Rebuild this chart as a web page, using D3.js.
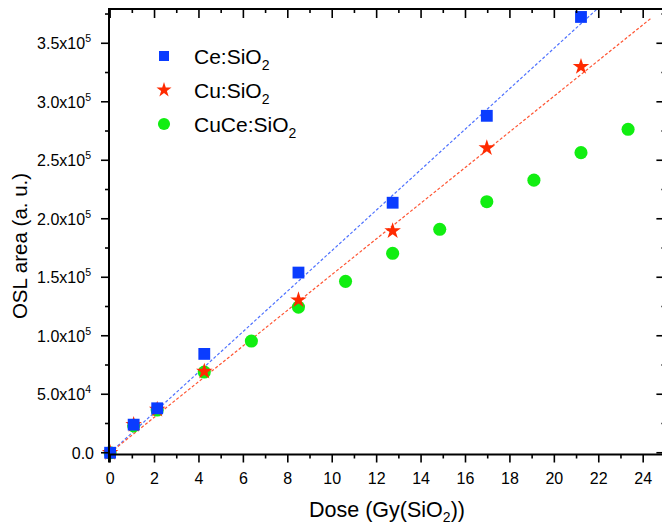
<!DOCTYPE html>
<html><head><meta charset="utf-8">
<script src="https://cdn.jsdelivr.net/npm/d3@7"></script>
<style>
html,body{margin:0;padding:0;background:#fff;}
svg{display:block;font-family:Arial,"Liberation Sans",sans-serif;}
</style></head>
<body>
<svg id="chart" width="662" height="527"></svg>
<script>
// ---- data ----
const doseCe   = [0, 1.06, 2.12, 4.24, 8.48, 12.72, 16.96, 21.2];
const oslCe    = [0, 24000, 38000, 84500, 154000, 213700, 288000, 372500];
const doseCu   = [0, 1.06, 2.12, 4.24, 8.48, 12.72, 16.96, 21.2];
const oslCu    = [0, 24000, 37000, 69500, 130500, 189500, 260500, 330000];
const doseCuCe = [0, 1.06, 2.12, 4.24, 6.36, 8.48, 10.6, 12.72, 14.84, 16.96, 19.08, 21.2, 23.32];
const oslCuCe  = [0, 23000, 36500, 69000, 95500, 124500, 146500, 170500, 191000, 214600, 233000, 256500, 276500];
// linear fits (slope, intercept) and fit range
const fitCe = {slope: 17300, intercept: 0};
const fitCu = {slope: 15250, intercept: 0};
const fitRange = [0, 24.35];
const seriesNames = ["Ce:SiO", "Cu:SiO", "CuCe:SiO"];
const xTicks = [0, 2, 4, 6, 8, 10, 12, 14, 16, 18, 20, 22, 24];
const yTicks = [0, 50000, 100000, 150000, 200000, 250000, 300000, 350000];

const svg = d3.select("#chart");
const x = d3.scaleLinear().domain([-0.05, 25]).range([109, 665.4]);
const y = d3.scaleLinear().domain([-1500, 379300]).range([454.5, 9]);
const X0 = x.range()[0], X1 = x.range()[1], Y0 = y.range()[0], Y1 = y.range()[1];

const cBlue = "#0a3cff", cRed = "#ff2a00", cGreen = "#11ee11";

// clip
svg.append("clipPath").attr("id","clip").append("rect")
  .attr("x", X0).attr("y", Y1).attr("width", X1 - X0).attr("height", Y0 - Y1);

// fit lines
const line = d3.line().x(d => x(d[0])).y(d => y(d[1]));
const fits = [[fitCe, "#4f72ff"], [fitCu, "#ff5533"]];
fits.forEach(([f, c]) => {
  const pts = fitRange.map(v => [v, f.slope * v + f.intercept]);
  svg.append("path").attr("clip-path","url(#clip)")
    .attr("d", line(pts)).attr("fill","none").attr("stroke", c)
    .attr("stroke-width", 1.2).attr("stroke-dasharray", "3,2");
});

// markers
const g = svg.append("g");
const circle = d3.symbol().type(d3.symbolCircle).size(135);
const star = d3.symbol().type(d3.symbolStar).size(85);
const square = d3.symbol().type(d3.symbolSquare).size(140);
doseCuCe.forEach((d, i) => g.append("path").attr("d", circle())
  .attr("transform", `translate(${x(d)},${y(oslCuCe[i])})`).attr("fill", cGreen));
doseCu.forEach((d, i) => g.append("path").attr("d", star())
  .attr("transform", `translate(${x(d)},${y(oslCu[i])})`).attr("fill", cRed));
doseCe.forEach((d, i) => g.append("path").attr("d", square())
  .attr("transform", `translate(${x(d)},${y(oslCe[i])})`).attr("fill", cBlue));

// axes
const ax = svg.append("g").attr("stroke","#000").attr("fill","none");
ax.append("line").attr("x1", X0).attr("x2", X1 + 2).attr("y1", Y0).attr("y2", Y0).attr("stroke-width", 2);
ax.append("line").attr("x1", X0).attr("x2", X0).attr("y1", Y1).attr("y2", Y0 + 8).attr("stroke-width", 2);
ax.append("line").attr("x1", X0 - 1).attr("x2", X1).attr("y1", Y1).attr("y2", Y1).attr("stroke-width", 2);
ax.append("line").attr("x1", X1).attr("x2", X1).attr("y1", Y1).attr("y2", Y0).attr("stroke-width", 2);

// x ticks
d3.range(0, 26, 1).forEach(v => {
  const major = v % 2 === 0;
  const px = x(v);
  ax.append("line").attr("x1", px).attr("x2", px).attr("y1", Y0).attr("y2", Y0 + (major ? 8 : 4)).attr("stroke-width", 1.6);
  ax.append("line").attr("x1", px).attr("x2", px).attr("y1", Y1).attr("y2", Y1 + (major ? 9 : 4)).attr("stroke-width", 1.6);
});
// y ticks
d3.range(0, 380000, 25000).forEach(v => {
  const major = v % 50000 === 0;
  const py = y(v);
  ax.append("line").attr("x1", X0).attr("x2", X0 - (major ? 8 : 4)).attr("y1", py).attr("y2", py).attr("stroke-width", 1.6);
  ax.append("line").attr("x1", X1).attr("x2", X1 - (major ? 9 : 4)).attr("y1", py).attr("y2", py).attr("stroke-width", 1.6);
});

// tick labels
const tl = svg.append("g").attr("font-size", 16).attr("fill", "#000");
xTicks.forEach(v => tl.append("text").attr("x", x(v)).attr("y", 484)
  .attr("text-anchor","middle").text(v));
yTicks.forEach(v => {
  const t = tl.append("text").attr("y", y(v) + 6).attr("text-anchor","end");
  if (v === 0) { t.attr("x", 94).text("0.0"); return; }
  t.attr("x", 91);
  const e = Math.floor(Math.log10(v));
  const m = (v / Math.pow(10, e)).toFixed(1);
  t.append("tspan").text(m + "x10");
  t.append("tspan").attr("font-size", 10.5).attr("dy", -7).text(e);
});

// axis titles
const xt = svg.append("text").attr("x", 387).attr("y", 517).attr("text-anchor","middle")
  .attr("font-size", 21.5);
xt.append("tspan").text("Dose (Gy(SiO");
xt.append("tspan").attr("font-size", 14).attr("dy", 5).text("2");
xt.append("tspan").attr("dy", -5).text("))");

svg.append("text").attr("transform", "translate(27,246) rotate(-90)")
  .attr("text-anchor","middle").attr("font-size", 20.5).text("OSL area (a. u.)");

// legend
const leg = svg.append("g");
const legSyms = [d3.symbol().type(d3.symbolSquare).size(100), d3.symbol().type(d3.symbolStar).size(70), d3.symbol().type(d3.symbolCircle).size(115)];
const legCols = [cBlue, cRed, cGreen];
seriesNames.forEach((n, i) => {
  const cy = 56 + i * 34;
  leg.append("path").attr("d", legSyms[i]()).attr("transform", `translate(164,${cy})`).attr("fill", legCols[i]);
  const t = leg.append("text").attr("x", 194).attr("y", cy + 8).attr("font-size", 21);
  t.append("tspan").text(n);
  t.append("tspan").attr("font-size", 14).attr("dy", 6).text("2");
});
</script>
</body></html>
